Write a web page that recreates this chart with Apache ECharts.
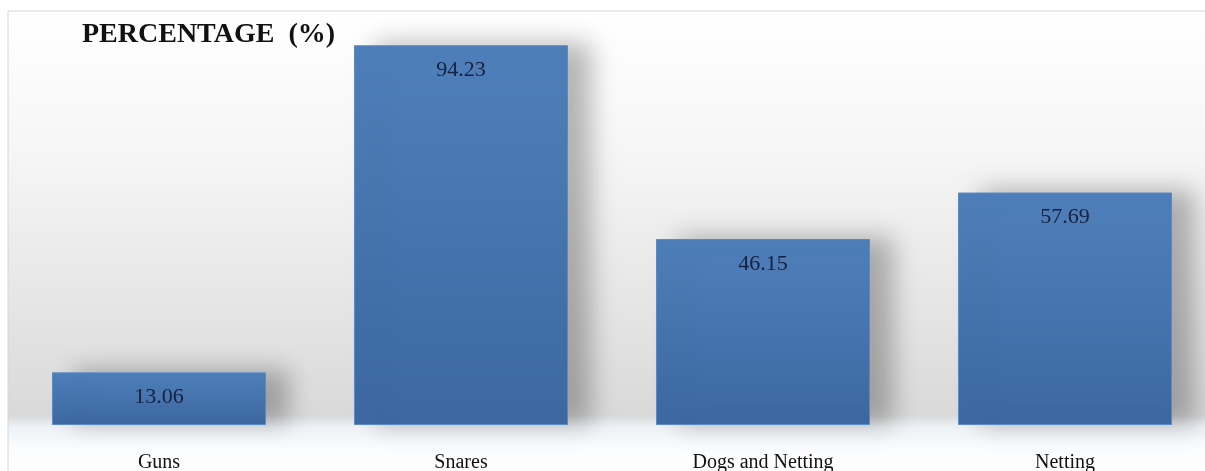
<!DOCTYPE html>
<html>
<head>
   <meta charset="utf-8">
   <title>Percentage</title>
   <script src="https://cdn.jsdelivr.net/npm/echarts@6/dist/echarts.min.js"></script>
   <style>
      html, body {margin: 0; padding: 0; background: #fff;}
      #chart {width: 1205px; height: 471px;}
   </style>
</head>
<body>
<div id="chart"></div>
<script>
   var categories = ['Guns', 'Snares', 'Dogs and Netting', 'Netting'];
   var percentages = [13.06, 94.23, 46.15, 57.69];
   var titleText = 'PERCENTAGE  (%)';

   var chart = echarts.init(document.getElementById('chart'));
   var serif = '"Liberation Serif", "DejaVu Serif", serif';

   var option = {
       backgroundColor: '#ffffff',
       animation: false,
       title: {
           text: titleText, left: 77, top: 16,
           textStyle: {fontFamily: serif, fontWeight: 'bold', fontSize: 28, color: '#111'}
       },
       graphic: [{
           type: 'rect', z: -10, silent: true,
           shape: {x: 8, y: 11, width: 1210, height: 470},
           style: {
               fill: new echarts.graphic.LinearGradient(0, 0, 0, 1, [
                   {offset: 0, color: '#ffffff'},
                   {offset: 0.3, color: '#f6f6f6'},
                   {offset: 0.86, color: '#d9d9d9'},
                   {offset: 0.885, color: '#eef2f6'},
                   {offset: 0.93, color: '#fbfcfd'},
                   {offset: 1, color: '#ffffff'}
               ]),
               stroke: '#d6d6d6', lineWidth: 1
           }
       }],
       grid: {left: 8, top: 22, right: -11, bottom: 46, containLabel: false, outerBoundsMode: 'none'},
       xAxis: {
           type: 'category', data: categories,
           axisLine: {show: false}, axisTick: {show: false},
           axisLabel: {fontFamily: serif, fontSize: 20, color: '#111', margin: 28}
       },
       yAxis: {
           type: 'value', min: 0, max: 100, show: false,
           splitLine: {show: false}
       },
       series: [{
           type: 'bar', data: percentages, barWidth: 214,
           itemStyle: {
               color: new echarts.graphic.LinearGradient(0, 0, 0, 1, [
                   {offset: 0, color: '#4f7fba'},
                   {offset: 1, color: '#3d68a1'}
               ]),
               borderColor: '#5a8ac6', borderWidth: 1,
               shadowColor: 'rgba(0,0,0,0.28)', shadowBlur: 24, shadowOffsetX: 22, shadowOffsetY: -2
           },
           label: {
               show: true, position: 'insideTop', distance: 14,
               fontFamily: serif, fontSize: 22, color: '#16213f'
           }
       }]
   };
   chart.setOption(option);
</script>
</body>
</html>
